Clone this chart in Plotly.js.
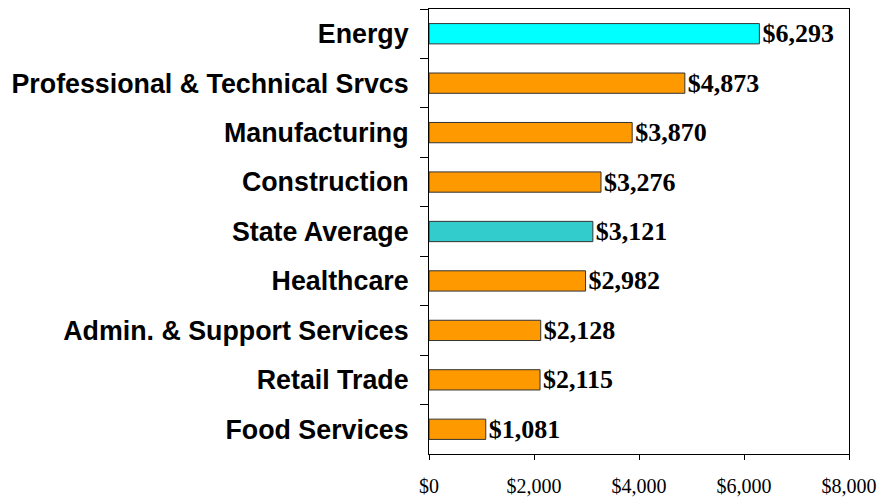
<!DOCTYPE html>
<html>
<head>
<meta charset="utf-8">
<script src="https://cdn.plot.ly/plotly-3.0.1.min.js"></script>
<style>html,body{margin:0;padding:0;background:#fff;}#chart{width:880px;height:497px;}</style>
</head>
<body>
<div id="chart"></div>
<script>
const categories = ["Energy", "Professional & Technical Srvcs", "Manufacturing", "Construction", "State Average", "Healthcare", "Admin. & Support Services", "Retail Trade", "Food Services"];
const values = [6293, 4873, 3870, 3276, 3121, 2982, 2128, 2115, 1081];
const barColors = ["#00FFFF", "#FF9900", "#FF9900", "#FF9900", "#33CCCC", "#FF9900", "#FF9900", "#FF9900", "#FF9900"];
const xTickValues = [0, 2000, 4000, 6000, 8000];
const xTickLabels = ["$0", "$2,000", "$4,000", "$6,000", "$8,000"];

const trace = {
  type: "bar",
  orientation: "h",
  y: categories,
  x: values,
  width: 0.41,
  marker: { color: barColors, line: { color: "#333333", width: 1 } },
  text: values.map(v => "$" + v.toLocaleString("en-US")),
  textposition: "outside",
  constraintext: "none",
  textfont: { family: "Liberation Serif, Times New Roman, serif", size: 26, color: "#000", weight: "bold" },
  cliponaxis: false,
  hoverinfo: "none"
};

const layout = {
  width: 880, height: 497,
  margin: { l: 429, r: 31, t: 9, b: 43, pad: 0 },
  paper_bgcolor: "#fff", plot_bgcolor: "#fff",
  showlegend: false,
  font: { family: "Liberation Sans, Arial, sans-serif", color: "#000" },
  xaxis: {
    range: [0, 8000],
    tickvals: xTickValues, ticktext: xTickLabels,
    ticks: "outside", ticklen: 5, tickcolor: "#000", tickwidth: 1,
    showline: true, linecolor: "#000", linewidth: 1, mirror: true,
    showgrid: false, zeroline: false,
    ticklabelstandoff: 9,
    tickfont: { family: "Liberation Serif, Times New Roman, serif", size: 20, color: "#000" },
    fixedrange: true
  },
  yaxis: {
    autorange: "reversed",
    tickson: "boundaries",
    ticks: "outside", ticklen: 8, tickcolor: "#000", tickwidth: 1,
    showline: true, linecolor: "#000", linewidth: 1, mirror: true,
    showgrid: false, zeroline: false,
    ticklabelstandoff: 14,
    tickfont: { family: "Liberation Sans, Arial, sans-serif", size: 26.8, color: "#000", weight: "bold" },
    fixedrange: true
  }
};

Plotly.newPlot("chart", [trace], layout, { displayModeBar: false, staticPlot: true });
</script>
</body>
</html>
